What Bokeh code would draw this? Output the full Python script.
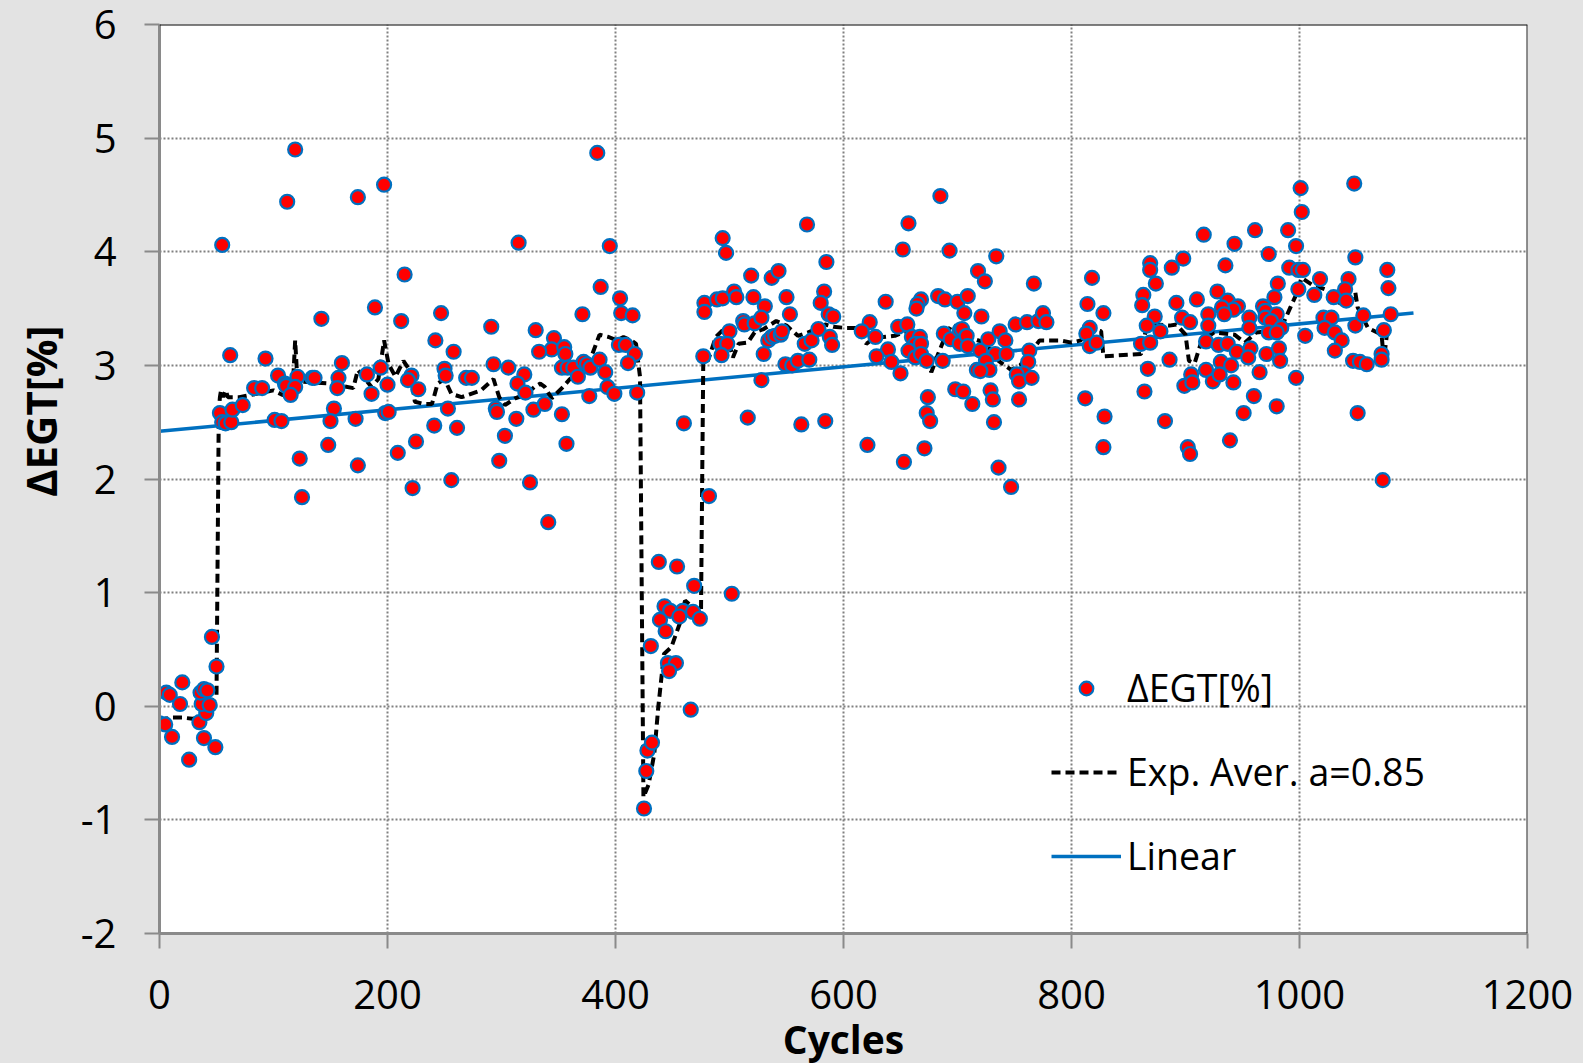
from bokeh.plotting import figure
from bokeh.models import Range1d, FixedTicker, Legend, LegendItem, Span, Title
from bokeh.embed import file_html
from bokeh.resources import INLINE

# ---------------- data ----------------
cycles_start = [0, 5, 11, 20, 6, 9, 18, 26, 35, 39, 41, 37, 36, 39, 42, 44, 49, 50, 46]
degt_start = [-0.15, -0.16, -0.27, 0.21, 0.12, 0.10, 0.02, -0.47, -0.14, -0.28, -0.06, 0.02, 0.12, 0.15, 0.14, 0.01, -0.36, 0.35, 0.61]

cycles_a = [119, 112, 174, 197, 55, 215, 189, 142, 212, 62, 93, 160, 104, 121, 134, 136, 157, 182, 194, 221,
            218, 110, 111, 119, 115, 83, 90, 156, 200, 186, 227, 53, 55, 58, 63, 64, 73, 101, 107, 153,
            150, 172, 198, 201, 225, 209, 148, 123, 174, 222, 125]
degt_a = [4.90, 4.44, 4.48, 4.59, 4.06, 3.80, 3.51, 3.41, 3.39, 3.09, 3.06, 3.02, 2.91, 2.90, 2.89, 2.89, 2.89, 2.92, 2.98, 2.91,
          2.87, 2.84, 2.82, 2.81, 2.74, 2.80, 2.80, 2.80, 2.83, 2.75, 2.79, 2.58, 2.50, 2.49, 2.50, 2.61, 2.65, 2.52, 2.51, 2.62,
          2.51, 2.53, 2.58, 2.59, 2.33, 2.23, 2.30, 2.18, 2.12, 1.92, 1.84]

cycles_b = [384, 315, 395, 387, 404, 405, 415, 371, 247, 242, 291, 330, 346, 344, 333, 355, 356, 258, 250, 251,
            269, 274, 293, 306, 320, 314, 321, 353, 358, 363, 367, 372, 375, 378, 386, 391, 393, 399, 403, 409,
            417, 411, 419, 377, 253, 261, 241, 295, 296, 313, 328, 338, 353, 303, 357, 298, 256, 325, 341, 460]
degt_b = [4.87, 4.08, 4.05, 3.69, 3.59, 3.46, 3.44, 3.45, 3.46, 3.22, 3.34, 3.31, 3.24, 3.14, 3.12, 3.16, 3.10, 3.12, 2.97, 2.91,
          2.89, 2.89, 3.01, 2.98, 2.92, 2.84, 2.76, 2.98, 2.98, 2.98, 2.90, 3.03, 3.01, 2.98, 3.05, 2.94, 2.81, 2.75, 3.18, 3.18,
          3.10, 3.02, 2.76, 2.73, 2.62, 2.45, 2.47, 2.62, 2.59, 2.53, 2.61, 2.66, 2.57, 2.38, 2.31, 2.16, 1.99, 1.97, 1.62, 2.49]

cycles_dip = [425, 427, 428, 432, 431, 438, 454, 469, 502, 443, 448, 459, 468, 456, 474, 439, 444, 446, 453, 447, 466]
degt_dip = [-0.90, -0.57, -0.39, -0.32, 0.53, 1.27, 1.23, 1.06, 0.99, 0.88, 0.84, 0.84, 0.83, 0.79, 0.77, 0.76, 0.66, 0.38, 0.38, 0.31, -0.03]

cycles_c = [494, 497, 568, 519, 537, 543, 585, 478, 478, 489, 494, 504, 506, 521, 531, 550, 553, 583, 580, 587,
            591, 512, 513, 522, 528, 500, 492, 498, 493, 530, 534, 537, 540, 545, 546, 566, 572, 578, 588, 590,
            477, 549, 555, 560, 570, 528, 516, 563, 584, 482]
degt_c = [4.12, 3.99, 4.24, 3.79, 3.77, 3.83, 3.91, 3.55, 3.47, 3.58, 3.59, 3.65, 3.60, 3.60, 3.52, 3.60, 3.45, 3.65, 3.55, 3.45,
          3.43, 3.39, 3.36, 3.37, 3.42, 3.30, 3.19, 3.19, 3.09, 3.10, 3.22, 3.25, 3.26, 3.27, 3.30, 3.19, 3.22, 3.32, 3.25, 3.18,
          3.08, 3.01, 3.00, 3.04, 3.05, 2.87, 2.54, 2.48, 2.51, 1.85]

cycles_d = [685, 657, 652, 693, 637, 668, 665, 664, 683, 689, 700, 623, 616, 648, 656, 628, 660, 667, 663, 668,
            657, 663, 668, 639, 642, 629, 650, 673, 687, 688, 694, 702, 702, 674, 673, 676, 698, 621, 653, 671]
degt_d = [4.49, 4.25, 4.02, 4.01, 3.56, 3.58, 3.54, 3.50, 3.61, 3.58, 3.56, 3.38, 3.30, 3.34, 3.36, 3.25, 3.25, 3.25, 3.19, 3.19,
          3.13, 3.07, 3.10, 3.14, 3.03, 3.08, 2.93, 3.04, 3.04, 3.28, 3.23, 3.31, 3.19, 2.72, 2.58, 2.51, 2.79, 2.30, 2.15, 2.27]

cycles_e = [734, 718, 724, 767, 709, 706, 721, 704, 708, 709, 720, 727, 737, 742, 733, 743, 725, 728, 717, 720,
            751, 761, 771, 775, 778, 763, 762, 758, 752, 754, 765, 705, 729, 731, 713, 754, 732, 736, 747]
degt_e = [3.96, 3.83, 3.74, 3.72, 3.61, 3.46, 3.43, 3.32, 3.26, 3.17, 3.13, 3.23, 3.30, 3.22, 3.10, 3.10, 3.04, 2.96, 2.96, 2.95,
          3.36, 3.38, 3.39, 3.46, 3.38, 3.13, 3.03, 2.93, 2.92, 2.86, 2.89, 2.77, 2.78, 2.70, 2.66, 2.70, 2.50, 2.10, 1.93]

cycles_f = [818, 814, 828, 816, 813, 816, 822, 812, 829, 828, 869, 869, 888, 898, 874, 863, 862, 873, 866, 878,
            861, 869, 892, 910, 897, 904, 867, 886, 864, 905, 899, 906, 882, 902, 904]
degt_f = [3.77, 3.54, 3.46, 3.33, 3.28, 3.17, 3.20, 2.71, 2.55, 2.28, 3.90, 3.84, 3.86, 3.94, 3.72, 3.62, 3.53, 3.43, 3.35, 3.30,
          3.19, 3.20, 3.55, 3.58, 3.42, 3.38, 2.97, 3.05, 2.77, 2.92, 2.82, 2.85, 2.51, 2.28, 2.22]

cycles_g = [1001, 1002, 1048, 961, 990, 916, 943, 973, 997, 1049, 935, 1077, 1078, 991, 999, 1003, 981, 1018, 999, 1043,
            1040, 928, 978, 1013, 1030, 1041, 937, 946, 942, 932, 934, 968, 970, 956, 970, 980, 975, 984, 973, 980,
            956, 920, 920, 918, 929, 937, 945, 957, 955, 971, 982, 983, 1005, 1021, 1028, 1022, 1031, 1037, 1049, 1056,
            1080, 1074, 1031, 1072, 1072, 1047, 1053, 1059, 918, 924, 931, 940, 930, 942, 965, 997, 960, 951, 980, 939,
            1051, 1073]
degt_g = [4.56, 4.35, 4.60, 4.19, 4.19, 4.15, 4.07, 3.98, 4.05, 3.95, 3.88, 3.84, 3.68, 3.86, 3.84, 3.84, 3.72, 3.76, 3.67, 3.76,
          3.67, 3.65, 3.60, 3.62, 3.60, 3.57, 3.57, 3.52, 3.49, 3.51, 3.45, 3.52, 3.48, 3.42, 3.42, 3.45, 3.39, 3.33, 3.29, 3.29,
          3.33, 3.45, 3.35, 3.21, 3.18, 3.19, 3.12, 3.15, 3.07, 3.10, 3.15, 3.04, 3.26, 3.42, 3.42, 3.33, 3.29, 3.22, 3.35, 3.44,
          3.45, 3.31, 3.13, 3.10, 3.05, 3.04, 3.03, 3.01, 2.96, 2.86, 3.03, 3.00, 2.92, 2.85, 2.94, 2.89, 2.73, 2.58, 2.64, 2.34,
          2.58, 1.99]

cycles = (cycles_start + cycles_a + cycles_b + cycles_dip + cycles_c + cycles_d
          + cycles_e + cycles_f + cycles_g)
degt = (degt_start + degt_a + degt_b + degt_dip + degt_c + degt_d
        + degt_e + degt_f + degt_g)

# exponential average (dashed line)
exp_cycles = [0, 5, 11, 20, 29, 36, 41, 47, 50, 52, 53, 54, 56, 58, 60, 70, 80, 90, 100, 108,
              113, 117, 119, 121, 135, 150, 160, 170, 174, 178, 186, 192, 197, 201, 207, 214, 220, 224, 232, 239,
              244, 250, 256, 265, 282, 293, 298, 303, 312, 322, 329, 334, 338, 344, 354, 360, 367, 376, 383, 386,
              394, 401, 407, 414, 418, 420, 421.5, 424.5, 429, 434, 437.5, 442.5, 449, 457.5, 461, 467, 475, 477, 481, 488,
              496, 503, 508, 516, 522, 530, 541, 550, 560, 569, 576, 584, 591, 601, 613, 620, 628, 635, 645, 652,
              663, 670, 677, 683, 689, 695, 701, 709, 715, 724, 736, 747, 755, 763, 772, 790, 800, 808, 818, 826,
              828, 861, 865, 874, 886, 892, 900, 903, 908, 914, 925, 943, 952, 962, 973, 984, 992, 997, 1002, 1011,
              1022, 1031, 1043, 1049, 1051, 1060, 1072, 1074, 1077]
exp_avg = [-0.13, -0.11, -0.10, -0.10, -0.11, -0.10, -0.04, 0.04, 0.08, 2.60, 2.72, 2.78, 2.72, 2.78, 2.72, 2.72, 2.74, 2.76, 2.78, 2.74,
           2.75, 2.82, 3.22, 2.86, 2.85, 2.84, 2.82, 2.80, 2.96, 2.91, 2.81, 2.88, 3.22, 3.01, 2.90, 3.04, 2.95, 2.68, 2.66, 2.66,
           2.84, 2.88, 2.75, 2.72, 2.78, 2.88, 2.72, 2.65, 2.71, 2.75, 2.81, 2.84, 2.81, 2.71, 2.81, 2.88, 2.90, 3.00, 3.19, 3.27,
           3.25, 3.22, 3.25, 3.22, 3.19, 3.02, 2.90, -0.80, -0.69, -0.42, -0.01, 0.46, 0.52, 0.76, 0.93, 0.88, 0.82, 3.05, 3.04, 3.25,
           3.33, 3.07, 3.19, 3.20, 3.29, 3.32, 3.39, 3.35, 3.26, 3.29, 3.32, 3.36, 3.34, 3.33, 3.33, 3.19, 3.25, 3.25, 3.26, 3.29,
           3.32, 3.19, 2.94, 3.10, 3.25, 3.36, 3.33, 3.25, 3.23, 3.20, 3.04, 2.96, 3.00, 3.10, 3.22, 3.22, 3.20, 3.22, 3.32, 3.30,
           3.08, 3.10, 3.30, 3.36, 3.35, 3.36, 3.27, 3.04, 3.02, 3.21, 3.29, 3.27, 3.20, 3.29, 3.30, 3.33, 3.51, 3.62, 3.77, 3.71,
           3.67, 3.57, 3.51, 3.64, 3.51, 3.33, 3.27, 3.05, 3.30]

# linear trend line
lin_cycles = [0, 1100]
lin_values = [2.42, 3.46]

x_ticks = [0, 200, 400, 600, 800, 1000, 1200]
y_ticks = [-2, -1, 0, 1, 2, 3, 4, 5, 6]
x_tick_labels = {t: str(t) for t in x_ticks}
y_tick_labels = {t: str(t) for t in y_ticks}

BG = "#e3e3e3"
FONT = "Open Sans"

p = figure(frame_width=1368, frame_height=909,
           min_border_left=158, min_border_right=56, min_border_top=24, min_border_bottom=129,
           x_range=Range1d(0, 1200), y_range=Range1d(-2, 6),
           output_backend="svg", toolbar_location=None,
           background_fill_color="white", border_fill_color=BG)
p.outline_line_color = None

for ax in (p.xaxis[0], p.yaxis[0]):
    ax.axis_line_color = "#8a8a8a"
    ax.axis_line_width = 3
    ax.major_tick_line_color = "#8a8a8a"
    ax.major_tick_line_width = 2
    ax.major_tick_in = 0
    ax.major_tick_out = 15
    ax.minor_tick_line_color = None
    ax.major_label_text_font = FONT
    ax.major_label_text_font_size = "40px"
    ax.major_label_text_color = "black"

p.xaxis[0].ticker = FixedTicker(ticks=x_ticks)
p.yaxis[0].ticker = FixedTicker(ticks=y_ticks)
p.xaxis[0].major_label_overrides = x_tick_labels
p.yaxis[0].major_label_overrides = y_tick_labels
p.xaxis[0].major_label_standoff = 31
p.yaxis[0].major_label_standoff = 28

p.xaxis[0].axis_label = "Cycles"
p.xaxis[0].axis_label_text_font = FONT
p.xaxis[0].axis_label_text_font_style = "bold"
p.xaxis[0].axis_label_text_font_size = "39px"
p.xaxis[0].axis_label_text_color = "black"
p.xaxis[0].axis_label_standoff = 0

for g in (p.xgrid[0], p.ygrid[0]):
    g.grid_line_color = "#808080"
    g.grid_line_width = 2
    g.grid_line_dash = "2 2"
p.xgrid[0].ticker = FixedTicker(ticks=x_ticks)
p.ygrid[0].ticker = FixedTicker(ticks=y_ticks)

# plot edges (top / right)
p.add_layout(Span(location=6, dimension="width", line_color="black", line_width=2))
p.add_layout(Span(location=1200, dimension="height", line_color="#222222", line_width=2))

lin_r = p.line(lin_cycles, lin_values, line_color="#0070C0", line_width=3.5)
exp_r = p.line(exp_cycles, exp_avg, line_color="black", line_width=4, line_dash="9 5")
sc_r = p.scatter(cycles, degt, marker="circle", size=14, fill_color="#FF0000",
                 line_color="#0070C0", line_width=2.2)

legend = Legend(items=[LegendItem(label="ΔEGT[%]", renderers=[sc_r]),
                       LegendItem(label="Exp. Aver. a=0.85", renderers=[exp_r]),
                       LegendItem(label="Linear", renderers=[lin_r])],
                location=(892, 52), padding=0, margin=0,
                border_line_alpha=0, background_fill_alpha=0,
                glyph_width=70, glyph_height=34, label_height=34,
                spacing=33, label_standoff=6,
                label_text_font=FONT, label_text_font_size="37.5px",
                label_text_color="black")
p.add_layout(legend)

ytitle = Title(text="ΔEGT[%]", align="right", offset=301,
               text_font=FONT, text_font_style="bold", text_font_size="42px",
               text_color="black", standoff=18)
p.add_layout(ytitle, "left")

html = file_html(p, INLINE)
html = html.replace("<head>", "<head><style>html,body{background:%s;}</style>" % BG, 1)
open("out.html", "w").write(html)
